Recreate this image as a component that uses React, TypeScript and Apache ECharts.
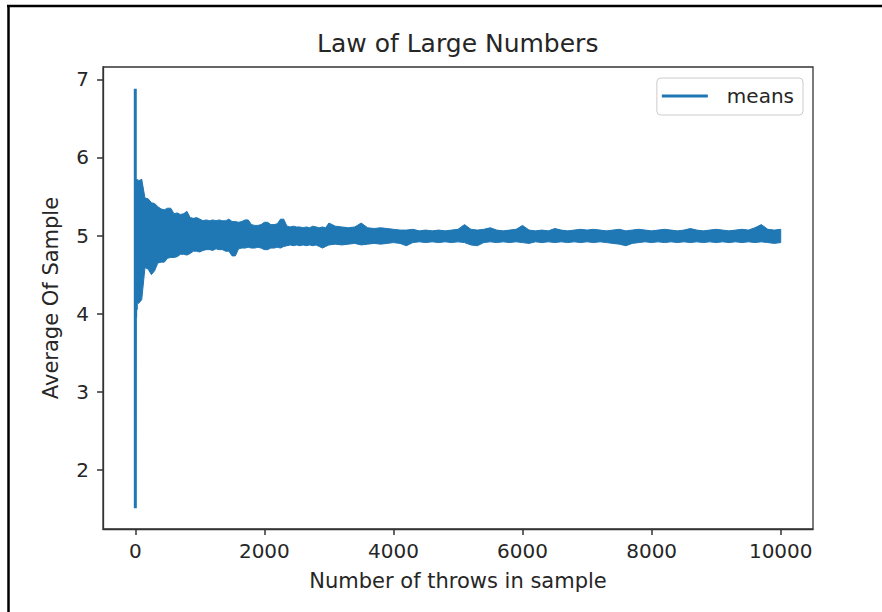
import React, { useEffect, useRef } from 'react';
import * as echarts from 'echarts';

const titleText = 'Law of Large Numbers';
const xAxisName = 'Number of throws in sample';
const yAxisName = 'Average Of Sample';
const seriesName = 'means';
const xTicks = [0, 2000, 4000, 6000, 8000, 10000];
const yTicks = [2, 3, 4, 5, 6, 7];

// first few samples (the spike near zero)
const spikeSizes = [0, 1, 3, 6, 10, 16, 25, 35, 50];
const spikeMeans = [6.88, 1.51, 5.72, 3.95, 5.7, 4.05, 5.72, 4.14, 5.7];

// envelope of the oscillating running mean
const sampleSizes = [
  50, 100, 150, 200, 250, 300, 350, 400, 450, 500, 550, 600, 650, 700, 750, 800, 850, 900, 950, 1000,
  1050, 1100, 1150, 1200, 1250, 1300, 1350, 1400, 1450, 1500, 1550, 1600, 1650, 1700, 1750, 1800, 1850, 1900, 1950, 2000,
  2050, 2100, 2150, 2200, 2250, 2300, 2350, 2400, 2450, 2500, 2550, 2600, 2650, 2700, 2750, 2800, 2850, 2900, 2950, 3000,
  3100, 3200, 3300, 3400, 3500, 3600, 3700, 3800, 3900, 4000,
  4100, 4200, 4300, 4400, 4500, 4600, 4700, 4800, 4900, 5000,
  5100, 5200, 5300, 5400, 5500, 5600, 5700, 5800, 5900, 6000,
  6100, 6200, 6300, 6400, 6500, 6600, 6700, 6800, 6900, 7000,
  7100, 7200, 7300, 7400, 7500, 7600, 7700, 7800, 7900, 8000,
  8100, 8200, 8300, 8400, 8500, 8600, 8700, 8800, 8900, 9000,
  9100, 9200, 9300, 9400, 9500, 9600, 9700, 9800, 9900, 10000,
];
const upperMeans = [
  5.7, 5.72, 5.48, 5.47, 5.42, 5.41, 5.37, 5.34, 5.33, 5.35, 5.35, 5.28, 5.29, 5.27, 5.28, 5.31, 5.23, 5.22, 5.23, 5.21,
  5.19, 5.2, 5.19, 5.2, 5.19, 5.2, 5.19, 5.19, 5.21, 5.18, 5.18, 5.17, 5.18, 5.2, 5.2, 5.14, 5.13, 5.13, 5.14, 5.17,
  5.17, 5.14, 5.14, 5.15, 5.21, 5.21, 5.12, 5.11, 5.12, 5.11, 5.11, 5.1, 5.11, 5.1, 5.12, 5.11, 5.1, 5.11, 5.1, 5.16,
  5.12, 5.11, 5.1, 5.11, 5.16, 5.1, 5.09, 5.1, 5.09, 5.08,
  5.07, 5.07, 5.08, 5.06, 5.07, 5.06, 5.07, 5.06, 5.07, 5.08,
  5.14, 5.08, 5.07, 5.08, 5.1, 5.07, 5.06, 5.07, 5.08, 5.13,
  5.07, 5.06, 5.07, 5.06, 5.09, 5.07, 5.06, 5.07, 5.08, 5.07,
  5.08, 5.07, 5.06, 5.07, 5.08, 5.06, 5.07, 5.08, 5.07, 5.06,
  5.07, 5.08, 5.07, 5.06, 5.07, 5.09, 5.07, 5.06, 5.07, 5.08,
  5.07, 5.06, 5.07, 5.08, 5.07, 5.1, 5.14, 5.08, 5.07, 5.08,
];
const lowerMeans = [
  4.13, 4.18, 4.59, 4.57, 4.5, 4.55, 4.65, 4.66, 4.66, 4.71, 4.72, 4.72, 4.73, 4.76, 4.76, 4.75, 4.77, 4.8, 4.8, 4.79,
  4.81, 4.82, 4.82, 4.81, 4.83, 4.82, 4.82, 4.8, 4.8, 4.74, 4.74, 4.83, 4.84, 4.84, 4.85, 4.84, 4.84, 4.85, 4.84, 4.82,
  4.82, 4.84, 4.84, 4.85, 4.84, 4.86, 4.87, 4.88, 4.87, 4.88, 4.87, 4.88, 4.87, 4.88, 4.87, 4.88, 4.86, 4.84, 4.86, 4.88,
  4.89, 4.88, 4.89, 4.9, 4.88, 4.89, 4.9, 4.89, 4.9, 4.91,
  4.9, 4.87, 4.91, 4.92, 4.91, 4.92, 4.91, 4.92, 4.91, 4.92,
  4.91, 4.88, 4.87, 4.91, 4.92, 4.91, 4.92, 4.91, 4.92, 4.91,
  4.9, 4.92, 4.91, 4.92, 4.91, 4.92, 4.91, 4.92, 4.91, 4.92,
  4.91, 4.92, 4.91, 4.9, 4.89, 4.87, 4.9, 4.91, 4.92, 4.91,
  4.92, 4.91, 4.92, 4.91, 4.92, 4.91, 4.92, 4.91, 4.92, 4.91,
  4.92, 4.91, 4.92, 4.91, 4.92, 4.91, 4.92, 4.91, 4.9, 4.91,
];

export default function App() {
  const ref = useRef<HTMLDivElement>(null);
  useEffect(() => {
    const chart = echarts.init(ref.current as HTMLDivElement, null, { renderer: 'svg' });
    const blue = '#1f77b4';
    const textColor = '#262626';
    const axisColor = '#333333';
    const font = 'DejaVu Sans';
    const bandRows = sampleSizes.map((n, i) => [n, lowerMeans[i], upperMeans[i]]);

    chart.setOption({
      animation: false,
      backgroundColor: '#ffffff',
      title: {
        text: titleText,
        left: 317,
        top: 31,
        padding: 0,
        textStyle: { fontFamily: font, fontSize: 25, fontWeight: 'normal', color: textColor },
      },
      legend: {
        data: [{ name: seriesName, icon: 'rect', itemStyle: { color: blue } }],
        right: 79,
        top: 78,
        itemWidth: 46,
        itemHeight: 3,
        padding: [8, 9, 9, 5],
        borderColor: '#cccccc',
        borderWidth: 1,
        borderRadius: 4,
        backgroundColor: 'rgba(255,255,255,0.8)',
        selectedMode: false,
        textStyle: { fontFamily: font, fontSize: 20, color: textColor, padding: [0, 0, 0, 14], lineHeight: 20 },
      },
      grid: {
        left: 103,
        right: 69,
        top: 67,
        bottom: 83,
        show: true,
        borderColor: axisColor,
        borderWidth: 1.3,
        backgroundColor: 'transparent',
      },
      xAxis: {
        type: 'value',
        min: -500,
        max: 10500,
        name: xAxisName,
        nameLocation: 'middle',
        nameGap: 41,
        nameTextStyle: { fontFamily: font, fontSize: 21, color: textColor },
        axisLine: { show: true, onZero: false, lineStyle: { color: axisColor, width: 1.3 } },
        axisTick: { show: true, length: 6, lineStyle: { color: axisColor, width: 1.5 }, customValues: xTicks },
        axisLabel: {
          customValues: xTicks,
          margin: 12,
          fontFamily: font,
          fontSize: 20,
          color: textColor,
          formatter: (v: number) => String(v),
        },
        splitLine: { show: false },
      },
      yAxis: {
        type: 'value',
        min: 1.245,
        max: 7.157,
        name: yAxisName,
        nameLocation: 'middle',
        nameGap: 42,
        nameTextStyle: { fontFamily: font, fontSize: 21, color: textColor },
        axisLine: { show: true, onZero: false, lineStyle: { color: axisColor, width: 1.3 } },
        axisTick: { show: true, length: 6, lineStyle: { color: axisColor, width: 1.5 }, customValues: yTicks },
        axisLabel: {
          customValues: yTicks,
          margin: 14,
          fontFamily: font,
          fontSize: 20,
          color: textColor,
          formatter: (v: number) => String(v),
        },
        splitLine: { show: false },
      },
      series: [
        {
          type: 'line',
          name: seriesName,
          data: spikeSizes.map((n, i) => [n, spikeMeans[i]]),
          symbol: 'none',
          showSymbol: false,
          lineStyle: { color: blue, width: 3 },
          itemStyle: { color: blue },
          z: 3,
        },
        {
          type: 'custom',
          name: seriesName,
          data: bandRows,
          encode: { x: 0, y: [1, 2] },
          itemStyle: { color: blue },
          z: 2,
          renderItem: (params: any, api: any) => {
            if (params.dataIndex !== 0) return null;
            const top = sampleSizes.map((n, i) => api.coord([n, upperMeans[i]]));
            const bottom = sampleSizes.map((n, i) => api.coord([n, lowerMeans[i]])).reverse();
            return {
              type: 'polygon',
              shape: { points: top.concat(bottom) },
              style: { fill: blue, stroke: blue, lineWidth: 1, lineJoin: 'miter' },
            };
          },
        },
      ],
      graphic: [
        { type: 'line', z: 100, shape: { x1: 7, y1: 6, x2: 882, y2: 6 }, style: { stroke: '#000000', lineWidth: 2.5 } },
        { type: 'line', z: 100, shape: { x1: 8.5, y1: 5, x2: 8.5, y2: 612 }, style: { stroke: '#000000', lineWidth: 2.5 } },
      ],
    });
    return () => chart.dispose();
  }, []);
  return (
    <div
      ref={ref}
      style={{ position: 'fixed', left: 0, top: 0, width: 882, height: 612, background: '#ffffff' }}
    />
  );
}
